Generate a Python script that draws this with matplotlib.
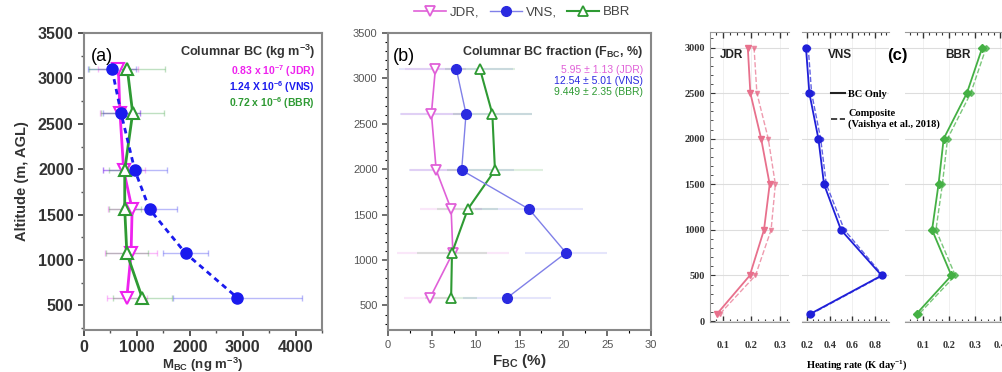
import matplotlib
matplotlib.use("Agg")
import matplotlib.pyplot as plt
from matplotlib.ticker import MultipleLocator

plt.rcParams['font.family'] = ['Liberation Sans', 'DejaVu Sans']
plt.rcParams['mathtext.default'] = 'regular'

# colours per site
c_jdr = '#ee22ee'
c_vns = '#1a1aee'
c_bbr = '#2e9a33'

# (a) BC mass concentration profiles (ng m-3)
alt_a = [3100, 2620, 1990, 1560, 1075, 585]
jdr_m = [650, 680, 750, 910, 890, 810]
jdr_m_err = [380, 380, 400, 460, 490, 380]
vns_m = [530, 700, 960, 1240, 1920, 2900]
vns_m_err = [450, 350, 600, 520, 430, 1220]
bbr_m = [820, 920, 770, 770, 810, 1100]
bbr_m_err = [720, 600, 300, 300, 400, 560]
col_bc = ['0.83 x 10$^{-7}$ (JDR)', '1.24 X 10$^{-6}$ (VNS)', '0.72 x 10$^{-6}$ (BBR)']

# (b) BC fraction profiles (%)
alt_b = [3100, 2610, 1990, 1560, 1080, 585]
jdr_f = [5.4, 4.95, 5.5, 7.2, 7.4, 4.8]
jdr_f_err = [3.5, 3.5, 3.0, 3.5, 6.4, 3.0]
vns_f = [7.8, 8.9, 8.4, 16.1, 20.3, 13.6]
vns_f_err = [6.5, 7.5, 6.0, 6.2, 4.7, 5.0]
bbr_f = [10.5, 11.9, 12.2, 9.1, 7.3, 7.2]
bbr_f_err = [4.0, 4.5, 5.5, 3.5, 4.0, 3.0]
col_frac = ['5.95 \u00b1 1.13 (JDR)', '12.54 \u00b1 5.01 (VNS)', '9.449 \u00b1 2.35 (BBR)']

# (c) heating rate profiles (K/day), BC only and composite
alt_c = [3000, 2500, 2000, 1500, 1000, 500, 80]
jdr_hr = [0.188, 0.197, 0.235, 0.265, 0.245, 0.195, 0.08]
jdr_hr_comp = [0.21, 0.22, 0.26, 0.285, 0.27, 0.215, 0.09]
vns_hr = [0.19, 0.22, 0.30, 0.35, 0.50, 0.86, 0.23]
vns_hr_comp = [0.21, 0.24, 0.32, 0.37, 0.53, 0.87, 0.24]
bbr_hr = [0.33, 0.27, 0.18, 0.16, 0.135, 0.21, 0.075]
bbr_hr_comp = [0.345, 0.285, 0.195, 0.175, 0.15, 0.225, 0.085]

W, H = 1002, 372
fig = plt.figure(figsize=(W / 100, H / 100), dpi=100)


def rect(x0, x1, y0, y1):
    return [x0 / W, (H - y1) / H, (x1 - x0) / W, (y1 - y0) / H]


def frame(ax, col='#888888'):
    for s in ax.spines.values():
        s.set_color(col)
        s.set_linewidth(1.5)


# ---------- panel (a) ----------
ax1 = fig.add_axes(rect(84, 322, 33, 330))
ax1.errorbar(jdr_m, alt_a, xerr=jdr_m_err, fmt='none', ecolor=c_jdr, alpha=0.3, lw=1, capsize=2)
ax1.errorbar(vns_m, alt_a, xerr=vns_m_err, fmt='none', ecolor=c_vns, alpha=0.3, lw=1, capsize=2)
ax1.errorbar(bbr_m, alt_a, xerr=bbr_m_err, fmt='none', ecolor=c_bbr, alpha=0.3, lw=1, capsize=2)
ax1.plot(jdr_m, alt_a, '-', color=c_jdr, lw=2, marker='v', mfc='white', mec=c_jdr, ms=8, mew=1.5, zorder=4)
ax1.plot(bbr_m, alt_a, '-', color=c_bbr, lw=2, marker='^', mfc='white', mec=c_bbr, ms=8, mew=1.5, zorder=4)
ax1.plot(vns_m, alt_a, color=c_vns, lw=2, ls=(0, (2, 1.6)), marker='o', mfc=c_vns, mec=c_vns, ms=8,
         zorder=5)
ax1.set_xlim(0, 4500)
ax1.set_ylim(230, 3500)
ax1.xaxis.set_major_locator(MultipleLocator(1000))
ax1.xaxis.set_minor_locator(MultipleLocator(500))
ax1.yaxis.set_major_locator(MultipleLocator(500))
ax1.yaxis.set_minor_locator(MultipleLocator(250))
ax1.tick_params(labelsize=11.5, colors='#333333', direction='out', length=4, width=1.2)
ax1.tick_params(which='minor', length=2.5, width=1, colors='#555555')
for lab in ax1.get_xticklabels() + ax1.get_yticklabels():
    lab.set_fontweight('bold')
frame(ax1)
ax1.set_ylabel('Altitude (m, AGL)', fontsize=10.5, fontweight='bold', color='#333333', labelpad=6)
ax1.set_xlabel('M$_{BC}$ (ng m$^{-3}$)', fontsize=9.5, fontweight='bold', color='#333333', labelpad=0)
ax1.text(0.03, 0.95, '(a)', transform=ax1.transAxes, fontsize=13, va='top')
ax1.text(0.97, 0.935, 'Columnar BC (kg m$^{-3}$)', transform=ax1.transAxes, ha='right', va='center',
         fontsize=9.2, fontweight='bold', color='#333333')
for k, (t, c) in enumerate(zip(col_bc, [c_jdr, c_vns, c_bbr])):
    ax1.text(0.97, 0.872 - k * 0.054, t, transform=ax1.transAxes, ha='right', va='center',
             fontsize=7.5, fontweight='bold', color=c)

# ---------- panel (b) ----------
c_jdr_b = '#e060d8'
c_vns_b = '#2a2ae0'
ax2 = fig.add_axes(rect(388, 651, 33, 330))
ax2.errorbar(jdr_f, alt_b, xerr=jdr_f_err, fmt='none', ecolor=c_jdr_b, alpha=0.15, lw=1.5)
ax2.errorbar(vns_f, alt_b, xerr=vns_f_err, fmt='none', ecolor=c_vns_b, alpha=0.12, lw=1.5)
ax2.errorbar(bbr_f, alt_b, xerr=bbr_f_err, fmt='none', ecolor=c_bbr, alpha=0.15, lw=1.5)
ax2.plot(jdr_f, alt_b, '-', color=c_jdr_b, lw=1.2, marker='v', mfc='white', mec=c_jdr_b, ms=7, mew=1.3,
         label='JDR,', zorder=4)
ax2.plot(vns_f, alt_b, '-', color='#8080e8', lw=1.0, marker='o', mfc=c_vns_b, mec=c_vns_b, ms=7,
         label='VNS,', zorder=5)
ax2.plot(bbr_f, alt_b, '-', color=c_bbr, lw=1.5, marker='^', mfc='white', mec=c_bbr, ms=7, mew=1.3,
         label='BBR', zorder=4)
ax2.set_xlim(0, 30)
ax2.set_ylim(230, 3500)
ax2.xaxis.set_major_locator(MultipleLocator(5))
ax2.xaxis.set_minor_locator(MultipleLocator(2.5))
ax2.yaxis.set_major_locator(MultipleLocator(500))
ax2.yaxis.set_minor_locator(MultipleLocator(100))
ax2.tick_params(labelsize=8, colors='#555555', direction='out', length=4, width=1.2)
ax2.tick_params(which='minor', length=2, width=0.8)
frame(ax2)
ax2.set_xlabel('F$_{BC}$ (%)', fontsize=11, fontweight='bold', color='#333333', labelpad=1)
ax2.text(0.02, 0.95, '(b)', transform=ax2.transAxes, fontsize=13, va='top')
ax2.text(0.97, 0.935, 'Columnar BC fraction (F$_{BC}$, %)', transform=ax2.transAxes, ha='right',
         va='center', fontsize=9, fontweight='bold', color='#333333')
for k, (t, c) in enumerate(zip(col_frac, [c_jdr_b, c_vns_b, c_bbr])):
    ax2.text(0.97, 0.877 - k * 0.037, t, transform=ax2.transAxes, ha='right', va='center',
             fontsize=7.5, color=c)
ax2.legend(loc='center', bbox_to_anchor=(0.51, 1.07), ncol=3, frameon=False, fontsize=9.5,
           handlelength=2.4, columnspacing=0.8, handletextpad=0.3, labelcolor='#444444')

# ---------- panel (c) ----------
c_jdr_c = '#e8708c'
c_vns_c = '#1f1fd8'
c_bbr_c = '#44b044'
serif = ['Liberation Serif', 'DejaVu Serif']
subs = [
    (710, 789, (0.055, 0.333), jdr_hr, jdr_hr_comp, c_jdr_c, 'v', 5, 'JDR', 0.1, 0.12),
    (802, 889, (0.155, 0.925), vns_hr, vns_hr_comp, c_vns_c, 'o', 5, 'VNS', 0.2, 0.3),
    (905, 1012, (0.03, 0.445), bbr_hr, bbr_hr_comp, c_bbr_c, 'D', 4, 'BBR', 0.1, 0.38),
]
axes_c = []
for i, (x0, x1, xl, hr, hrc, col, mk, msz, name, step, tx) in enumerate(subs):
    ax = fig.add_axes(rect(x0, x1, 32, 322))
    ax.patch.set_visible(False)
    axes_c.append(ax)
    ax.grid(axis='y', color='#dddddd', lw=0.8)
    ax.grid(axis='x', color='#eeeeee', lw=0.6)
    ax.plot(hrc, alt_c, '--', color=col, lw=1.0, alpha=0.7, marker=mk, ms=3, zorder=3)
    ax.plot(hr, alt_c, '-', color=col, lw=1.3, marker=mk, ms=msz, mec=col, mfc=col, zorder=4)
    ax.set_xlim(*xl)
    ax.set_ylim(-10, 3170)
    ax.xaxis.set_major_locator(MultipleLocator(step))
    ax.xaxis.set_minor_locator(MultipleLocator(step / 4))
    ax.yaxis.set_major_locator(MultipleLocator(500))
    ax.yaxis.set_minor_locator(MultipleLocator(100))
    ax.tick_params(axis='x', which='both', top=True, direction='in', colors='#333333', labelsize=7.5,
                   pad=14)
    ax.tick_params(axis='x', which='major', length=4, width=1)
    ax.tick_params(axis='x', which='minor', length=2.5, width=0.8)
    for s in ax.spines.values():
        s.set_color('#999999')
        s.set_linewidth(0.8)
    ax.spines['right'].set_visible(False)
    if i == 0:
        ax.tick_params(axis='y', which='both', direction='in', colors='#333333', labelsize=7.5)
        ax.tick_params(axis='y', which='minor', length=2)
    else:
        ax.spines['left'].set_visible(False)
        ax.tick_params(axis='y', which='both', left=False, labelleft=False)
    if i == 2:
        ax.tick_params(axis='y', which='major', right=True, direction='in', length=3, colors='#555555')
    for lab in ax.get_xticklabels() + ax.get_yticklabels():
        lab.set_family(serif)
        lab.set_fontweight('bold')
    ax.text(tx, 0.92, name, transform=ax.transAxes, fontsize=8.5,
            fontweight='bold', color='#222222', va='center')

axes_c[1].text(0.98, 0.92, '(c)', transform=axes_c[1].transAxes, fontsize=12, fontweight='bold',
               va='center', ha='left')
handles = [plt.Line2D([], [], color='#222222', lw=1.5),
           plt.Line2D([], [], color='#222222', lw=1.2, ls='--')]
fig.legend(handles, ['BC Only', 'Composite\n(Vaishya et al., 2018)'], loc='upper left',
           bbox_to_anchor=(822 / W, 1 - 80 / H), frameon=False, handlelength=1.3, handletextpad=0.3,
           labelspacing=1.0, prop={'family': serif, 'weight': 'bold', 'size': 7.5})
fig.text(857 / W, 1 - 365 / H, 'Heating rate (K day$^{-1}$)', ha='center', va='center',
         fontsize=7.5, fontweight='bold', family=serif)

fig.savefig('out.png', dpi=100)
